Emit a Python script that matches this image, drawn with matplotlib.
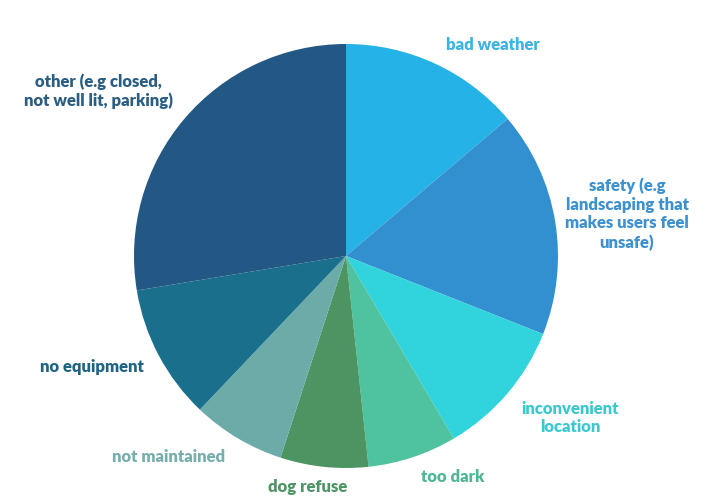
import matplotlib
matplotlib.use('Agg')
import matplotlib.pyplot as plt

# Dados do gráfico (porcentagens estimadas)
labels = ['bad weather', 'safety (e.g\nlandscaping that\nmakes users feel\nunsafe)',
          'inconvenient\nlocation', 'too dark', 'dog refuse', 'not maintained',
          'no equipment', 'other (e.g closed,\nnot well lit, parking)']
values = [13.8, 17.2, 10.5, 6.8, 6.7, 7.1, 10.3, 27.6]
colors = ['#25B2E6', '#3390D0', '#31D3DC', '#4FC29F', '#4D9463', '#6BABA8', '#196F8C', '#235884']
text_colors = ['#3AB4E2', '#3D91CF', '#3CC8CF', '#52B597', '#4F9466', '#76AFAB', '#1F6484', '#2B5E83']

# Posições dos rótulos (pixels da imagem)
label_px = [(493, 45), (627, 214), (570, 418), (453, 477), (308, 487), (169, 457), (92, 367), (98, 91)]

W, H = 714, 497
cx, cy, r = 346, 256, 212

fig = plt.figure(figsize=(W / 100, H / 100), dpi=100)
ax = fig.add_axes([(cx - r) / W, (H - cy - r) / H, 2 * r / W, 2 * r / H])
ax.pie(values, colors=colors, startangle=90, counterclock=False, radius=1,
       wedgeprops=dict(linewidth=0))
ax.set_xlim(-1, 1)
ax.set_ylim(-1, 1)
ax.axis('off')

for lab, (px, py), c in zip(labels, label_px, text_colors):
    ax.text((px - cx) / r, (cy - py) / r, lab, ha='center', va='center',
            color=c, fontsize=12, fontweight='heavy', family='Lato',
            linespacing=1.22, clip_on=False)

fig.savefig('out.png', dpi=100)
